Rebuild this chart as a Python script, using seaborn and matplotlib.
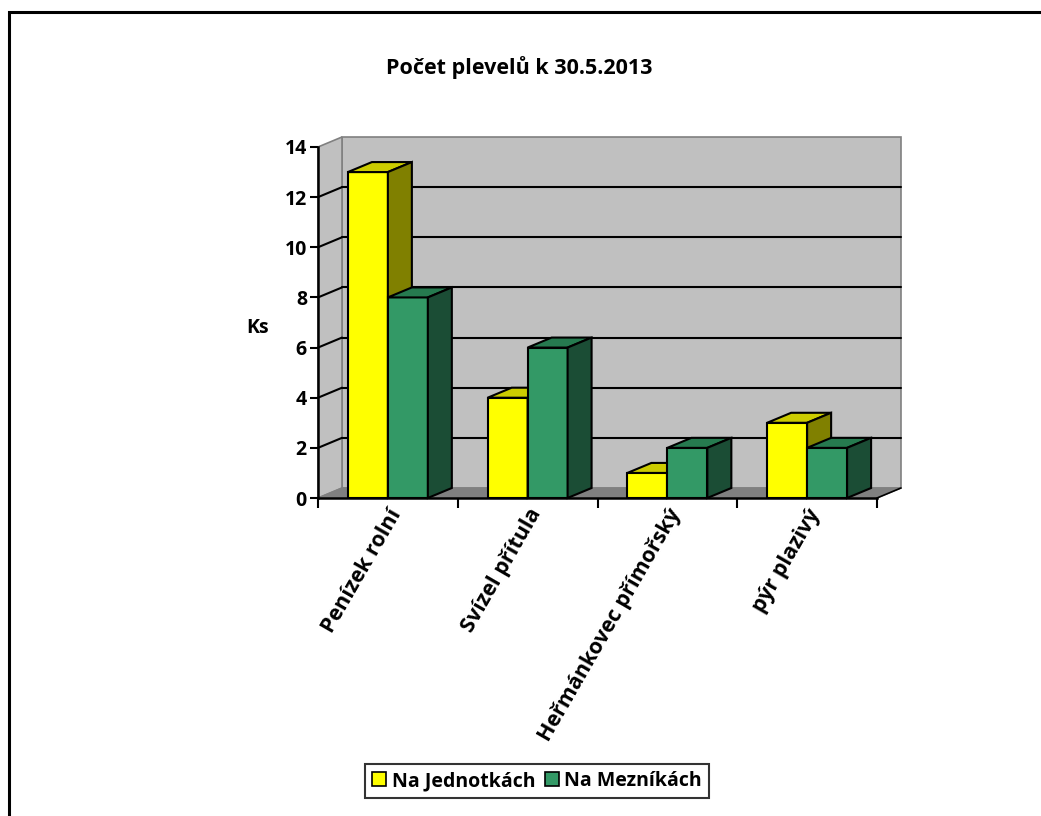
import pandas as pd
import matplotlib
matplotlib.use("Agg")
import matplotlib.pyplot as plt
from matplotlib.patches import Polygon, Rectangle
from matplotlib.lines import Line2D
import seaborn as sns

kategorie = ["Penízek rolní", "Svízel přítula", "Heřmánkovec přímořský", "pýr plazivý"]
serie = ["Na Jednotkách", "Na Mezníkách"]
na_jednotkach = [13, 4, 1, 3]
na_meznikach = [8, 6, 2, 2]
titulek = "Počet plevelů k 30.5.2013"
osa_y = "Ks"

df = pd.DataFrame({
    "Druh": kategorie * 2,
    "Pocet": na_jednotkach + na_meznikach,
    "Serie": [serie[0]] * 4 + [serie[1]] * 4,
})

barvy_predni = ["#FFFF00", "#339966"]
barvy_horni = ["#CCCC00", "#267A4F"]
barvy_bocni = ["#808000", "#1B4D35"]

sns.set_style("white")
plt.rcParams["font.family"] = ["Open Sans", "DejaVu Sans"]
plt.rcParams["font.weight"] = "bold"
plt.rcParams["text.color"] = "black"
plt.rcParams["xtick.color"] = "black"
plt.rcParams["ytick.color"] = "black"

fig = plt.figure(figsize=(10.41, 8.16), dpi=100)
ax = fig.add_axes([318 / 1041, (816 - 498) / 816, 559 / 1041, 351 / 816])
ax.set_facecolor("none")

# posun do hloubky (3D efekt)
dx = 24 / (559 / 4)
dy = 10 / (351 / 14)
x0, x1 = -0.5, 3.5
ymax = 14

# zadni stena, bocni stena, podlaha
ax.add_patch(Rectangle((x0 + dx, dy), x1 - x0, ymax, facecolor="#C0C0C0",
                       edgecolor="#808080", lw=1.2, zorder=0.5, clip_on=False))
ax.add_patch(Polygon([(x0, 0), (x0, ymax), (x0 + dx, ymax + dy), (x0 + dx, dy)],
                     facecolor="#C0C0C0", edgecolor="#808080", lw=1.2, zorder=0.5, clip_on=False))
for v in range(2, ymax, 2):
    ax.plot([x0 + dx, x1 + dx], [v + dy, v + dy], color="black", lw=1.5, zorder=0.6, clip_on=False)
    ax.plot([x0, x0 + dx], [v, v + dy], color="black", lw=1.5, zorder=0.6, clip_on=False)
ax.add_patch(Polygon([(x0, 0), (x1, 0), (x1 + dx, dy), (x0 + dx, dy)],
                     facecolor="#808080", edgecolor="#808080", lw=1, zorder=0.7, clip_on=False))
ax.plot([x1, x1 + dx], [0, dy], color="black", lw=1.2, zorder=0.8, clip_on=False)

sns.barplot(data=df, x="Druh", y="Pocet", hue="Serie", palette=barvy_predni,
            width=0.572, saturation=1, edgecolor="black", linewidth=1.5,
            legend=False, ax=ax)

for s, cont in enumerate(ax.containers):
    z = 2 + s
    for p in cont.patches:
        p.set_zorder(z)
        bx, bw, bh = p.get_x(), p.get_width(), p.get_height()
        ax.add_patch(Polygon([(bx, bh), (bx + bw, bh), (bx + bw + dx, bh + dy), (bx + dx, bh + dy)],
                             facecolor=barvy_horni[s], edgecolor="black", lw=1.5, zorder=z, clip_on=False))
        ax.add_patch(Polygon([(bx + bw, 0), (bx + bw + dx, dy), (bx + bw + dx, bh + dy), (bx + bw, bh)],
                             facecolor=barvy_bocni[s], edgecolor="black", lw=1.5, zorder=z, clip_on=False))

ax.set_xlim(x0, x1)
ax.set_ylim(0, ymax)
sns.despine(ax=ax, top=True, right=True)
for sp in ["left", "bottom"]:
    ax.spines[sp].set_color("black")
    ax.spines[sp].set_linewidth(1.8)
    ax.spines[sp].set_zorder(5)

ax.set_yticks(range(0, 15, 2))
ax.tick_params(axis="y", direction="out", length=6, width=1.5, color="black", labelcolor="black",
               labelsize=14, pad=2, left=True)
ax.set_xticks(range(4))
ax.set_xticklabels(kategorie, rotation=60, ha="right", rotation_mode="anchor", fontsize=15.5,
                   fontweight="bold", color="black")
ax.set_xticks([x0 + k for k in range(5)], minor=True)
ax.tick_params(axis="x", which="major", length=0, pad=5)
ax.tick_params(axis="x", which="minor", direction="out", length=7, width=1.5, color="black", bottom=True)
for lab in ax.get_yticklabels():
    lab.set_fontweight("bold")
ax.set_xlabel("")
ax.set_ylabel("")

fig.text(258 / 1041, 1 - 328 / 816, osa_y, fontsize=14, fontweight="bold", ha="center", va="center")
fig.text(519 / 1041, 1 - 68 / 816, titulek, fontsize=15.5, fontweight="bold", ha="center", va="center")

handles = [Line2D([], [], marker="s", ls="", markersize=10, markerfacecolor=c,
                  markeredgecolor="black", markeredgewidth=1.2) for c in barvy_predni]
leg = fig.legend(handles, serie, loc="center", bbox_to_anchor=(537 / 1041, 1 - 781 / 816),
                 ncol=2, frameon=True, fancybox=False, edgecolor="black", fontsize=14,
                 handlelength=0.7, handletextpad=0.3, columnspacing=0.5, borderpad=0.35,
                 borderaxespad=0)
leg.get_frame().set_linewidth(1.5)
for t in leg.get_texts():
    t.set_fontweight("bold")
    t.set_color("black")

fig.add_artist(Rectangle((8.5 / 1041, -0.1), 1.2, (816 - 11.5) / 816 + 0.1,
                         transform=fig.transFigure, fill=False, lw=2.2, edgecolor="black"))

plt.savefig("out.png", dpi=100)
plt.close()
